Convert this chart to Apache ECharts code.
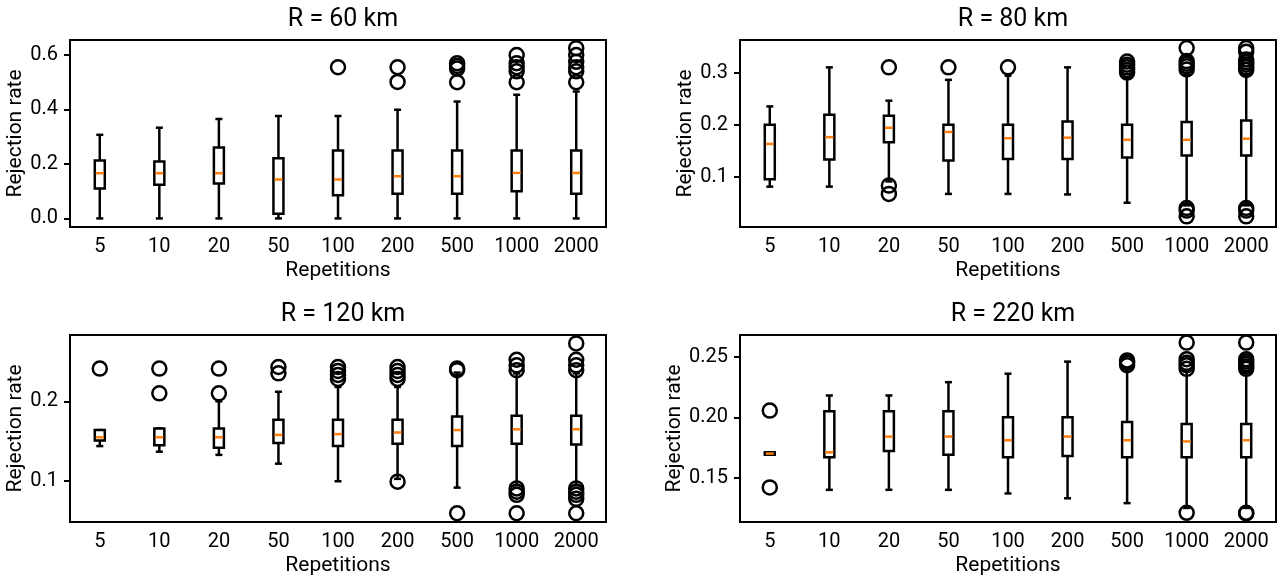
<!DOCTYPE html>
<html>
<head>
<meta charset="utf-8">
<title>Rejection rate vs repetitions</title>
<script src="https://cdn.jsdelivr.net/npm/echarts@6/dist/echarts.min.js"></script>
<style>
  html, body { margin: 0; padding: 0; background: #fff; }
  #chart { width: 1282px; height: 577px; }
</style>
</head>
<body>
<div id="chart"></div>
<script>
// categories on the x axis
const categories = ['5', '10', '20', '50', '100', '200', '500', '1000', '2000'];

// boxes: [lower whisker, Q1, median, Q3, upper whisker]
const box60 = [
  [0, 0.110, 0.166, 0.213, 0.307],
  [0, 0.124, 0.166, 0.209, 0.333],
  [0, 0.128, 0.166, 0.260, 0.365],
  [0, 0.017, 0.143, 0.221, 0.376],
  [0, 0.085, 0.143, 0.249, 0.376],
  [0, 0.091, 0.155, 0.249, 0.399],
  [0, 0.091, 0.155, 0.249, 0.429],
  [0, 0.100, 0.167, 0.249, 0.454],
  [0, 0.091, 0.167, 0.249, 0.466]
];
const box80 = [
  [0.081, 0.095, 0.163, 0.200, 0.235],
  [0.081, 0.133, 0.176, 0.219, 0.310],
  [0.091, 0.166, 0.194, 0.217, 0.246],
  [0.067, 0.131, 0.186, 0.200, 0.286],
  [0.067, 0.134, 0.174, 0.200, 0.294],
  [0.066, 0.134, 0.175, 0.206, 0.310],
  [0.050, 0.137, 0.171, 0.200, 0.290],
  [0.045, 0.141, 0.171, 0.205, 0.295],
  [0.045, 0.141, 0.173, 0.208, 0.295]
];
const box120 = [
  [0.144, 0.151, 0.155, 0.164, 0.164],
  [0.137, 0.145, 0.155, 0.166, 0.166],
  [0.133, 0.142, 0.155, 0.166, 0.200],
  [0.122, 0.148, 0.158, 0.177, 0.212],
  [0.100, 0.144, 0.159, 0.177, 0.218],
  [0.103, 0.147, 0.161, 0.177, 0.218],
  [0.092, 0.144, 0.164, 0.181, 0.236],
  [0.095, 0.147, 0.165, 0.182, 0.235],
  [0.095, 0.146, 0.165, 0.182, 0.235]
];
const box220 = [
  [0.169, 0.169, 0.170, 0.171, 0.171],
  [0.140, 0.167, 0.171, 0.205, 0.218],
  [0.140, 0.172, 0.184, 0.205, 0.218],
  [0.140, 0.169, 0.184, 0.205, 0.229],
  [0.137, 0.167, 0.181, 0.200, 0.236],
  [0.133, 0.168, 0.184, 0.200, 0.246],
  [0.129, 0.167, 0.181, 0.196, 0.240],
  [0.125, 0.167, 0.180, 0.1945, 0.238],
  [0.125, 0.167, 0.181, 0.1945, 0.238]
];

// outliers: [category index, value]
const out60 = [
  [4, 0.555],
  [5, 0.555], [5, 0.501],
  [6, 0.570], [6, 0.560], [6, 0.550], [6, 0.500],
  [7, 0.600], [7, 0.570], [7, 0.555], [7, 0.540], [7, 0.500],
  [8, 0.625], [8, 0.600], [8, 0.575], [8, 0.555], [8, 0.540], [8, 0.500]
];
const out80 = [
  [2, 0.310], [2, 0.083], [2, 0.067],
  [3, 0.310],
  [4, 0.310],
  [6, 0.321], [6, 0.315], [6, 0.310], [6, 0.305], [6, 0.300],
  [7, 0.347], [7, 0.322], [7, 0.317], [7, 0.312], [7, 0.306], [7, 0.040], [7, 0.035], [7, 0.024],
  [8, 0.347], [8, 0.340], [8, 0.325], [8, 0.320], [8, 0.315], [8, 0.310], [8, 0.305],
  [8, 0.040], [8, 0.035], [8, 0.024]
];
const out120 = [
  [0, 0.241],
  [1, 0.241], [1, 0.210],
  [2, 0.241], [2, 0.210],
  [3, 0.243], [3, 0.235],
  [4, 0.243], [4, 0.238], [4, 0.233], [4, 0.228],
  [5, 0.243], [5, 0.238], [5, 0.233], [5, 0.228], [5, 0.0995],
  [6, 0.241], [6, 0.239], [6, 0.060],
  [7, 0.252], [7, 0.245], [7, 0.239], [7, 0.091], [7, 0.087], [7, 0.083], [7, 0.060],
  [8, 0.2725], [8, 0.252], [8, 0.245], [8, 0.239], [8, 0.091], [8, 0.087], [8, 0.083], [8, 0.078], [8, 0.060]
];
const out220 = [
  [0, 0.2055], [0, 0.142],
  [6, 0.247], [6, 0.245], [6, 0.243],
  [7, 0.2617], [7, 0.248], [7, 0.245], [7, 0.243], [7, 0.240], [7, 0.121],
  [8, 0.2617], [8, 0.248], [8, 0.246], [8, 0.244], [8, 0.242], [8, 0.240], [8, 0.121], [8, 0.1205]
];

// y tick labels
const yTicks60 = [0, 0.2, 0.4, 0.6];
const yTicks80 = [0.1, 0.2, 0.3];
const yTicks120 = [0.1, 0.2];
const yTicks220 = [0.15, 0.20, 0.25];

const panels = [
  { title: 'R = 60 km', box: box60, out: out60, ticks: yTicks60, min: -0.0315, max: 0.655, dec: 1, left: 70, top: 40 },
  { title: 'R = 80 km', box: box80, out: out80, ticks: yTicks80, min: 0.0035, max: 0.3625, dec: 1, left: 740, top: 40 },
  { title: 'R = 120 km', box: box120, out: out120, ticks: yTicks120, min: 0.049, max: 0.283, dec: 1, left: 70, top: 335 },
  { title: 'R = 220 km', box: box220, out: out220, ticks: yTicks220, min: 0.1134, max: 0.268, dec: 2, left: 740, top: 335 }
];

const FONT = 'Roboto';
const W = 536, H = 187;
const BOX_HALF = 5, CAP_HALF = 3.5, LW = 2.5;

// box + whiskers + orange median, matplotlib style
function renderBox(params, api) {
  const k = api.value(0);
  const x = api.coord([k, 0])[0];
  const y = i => api.coord([k, api.value(i)])[1];
  const yLo = y(1), yQ1 = y(2), yMed = y(3), yQ3 = y(4), yHi = y(5);
  const black = { stroke: '#000', lineWidth: LW, fill: null };
  return {
    type: 'group',
    children: [
      { type: 'line', shape: { x1: x, y1: yQ1, x2: x, y2: yLo }, style: black },
      { type: 'line', shape: { x1: x, y1: yQ3, x2: x, y2: yHi }, style: black },
      { type: 'line', shape: { x1: x - CAP_HALF, y1: yLo, x2: x + CAP_HALF, y2: yLo }, style: black },
      { type: 'line', shape: { x1: x - CAP_HALF, y1: yHi, x2: x + CAP_HALF, y2: yHi }, style: black },
      { type: 'rect', shape: { x: x - BOX_HALF, y: yQ3, width: BOX_HALF * 2, height: yQ1 - yQ3 },
        style: { stroke: '#000', lineWidth: LW, fill: '#fff' } },
      { type: 'line', shape: { x1: x - BOX_HALF + 1, y1: yMed, x2: x + BOX_HALF - 1, y2: yMed },
        style: { stroke: '#ff7f0e', lineWidth: LW, fill: null } }
    ]
  };
}

let grids = [], xAxes = [], yAxes = [], titles = [], series = [];

panels.forEach((p, i) => {
  grids.push({
    left: p.left, top: p.top, width: W, height: H,
    show: true, borderColor: '#000', borderWidth: 2, backgroundColor: 'transparent'
  });
  titles.push({
    text: p.title,
    left: p.left + W / 2, top: p.top - 38, textAlign: 'center',
    textStyle: { fontFamily: FONT, fontSize: 25, fontWeight: 'normal', color: '#000' }
  });
  xAxes.push({
    type: 'category', gridIndex: i, data: categories, boundaryGap: true,
    name: 'Repetitions', nameLocation: 'middle', nameGap: 33,
    nameTextStyle: { fontFamily: FONT, fontSize: 21, color: '#000' },
    axisLine: { onZero: false, lineStyle: { color: '#000', width: 2 } },
    axisTick: { alignWithLabel: true, length: 6, lineStyle: { color: '#000', width: 2 } },
    axisLabel: { fontFamily: FONT, fontSize: 20, color: '#000', margin: 10 },
    splitLine: { show: false }
  });
  yAxes.push({
    type: 'value', gridIndex: i, min: p.min, max: p.max,
    name: 'Rejection rate', nameLocation: 'middle', nameGap: 44,
    nameTextStyle: { fontFamily: FONT, fontSize: 21, color: '#000' },
    axisLine: { show: true, onZero: false, lineStyle: { color: '#000', width: 2 } },
    axisTick: { show: true, length: 6, customValues: p.ticks, lineStyle: { color: '#000', width: 2 } },
    axisLabel: {
      fontFamily: FONT, fontSize: 20, color: '#000', margin: 12,
      customValues: p.ticks,
      formatter: v => v.toFixed(p.dec)
    },
    splitLine: { show: false }
  });
  series.push({
    type: 'custom', xAxisIndex: i, yAxisIndex: i,
    data: p.box.map((b, k) => [k].concat(b)),
    encode: { x: 0, y: [1, 2, 3, 4, 5] },
    renderItem: renderBox, silent: true, z: 2
  });
  series.push({
    type: 'scatter', xAxisIndex: i, yAxisIndex: i,
    data: p.out,
    symbol: 'circle', symbolSize: 14,
    itemStyle: { color: 'rgba(0,0,0,0)', borderColor: '#000', borderWidth: 2.5, opacity: 1 },
    silent: true, z: 4
  });
});

const chart = echarts.init(document.getElementById('chart'), null, { renderer: 'canvas' });
chart.setOption({
  animation: false,
  backgroundColor: '#fff',
  title: titles,
  grid: grids,
  xAxis: xAxes,
  yAxis: yAxes,
  series: series
});
</script>
</body>
</html>
